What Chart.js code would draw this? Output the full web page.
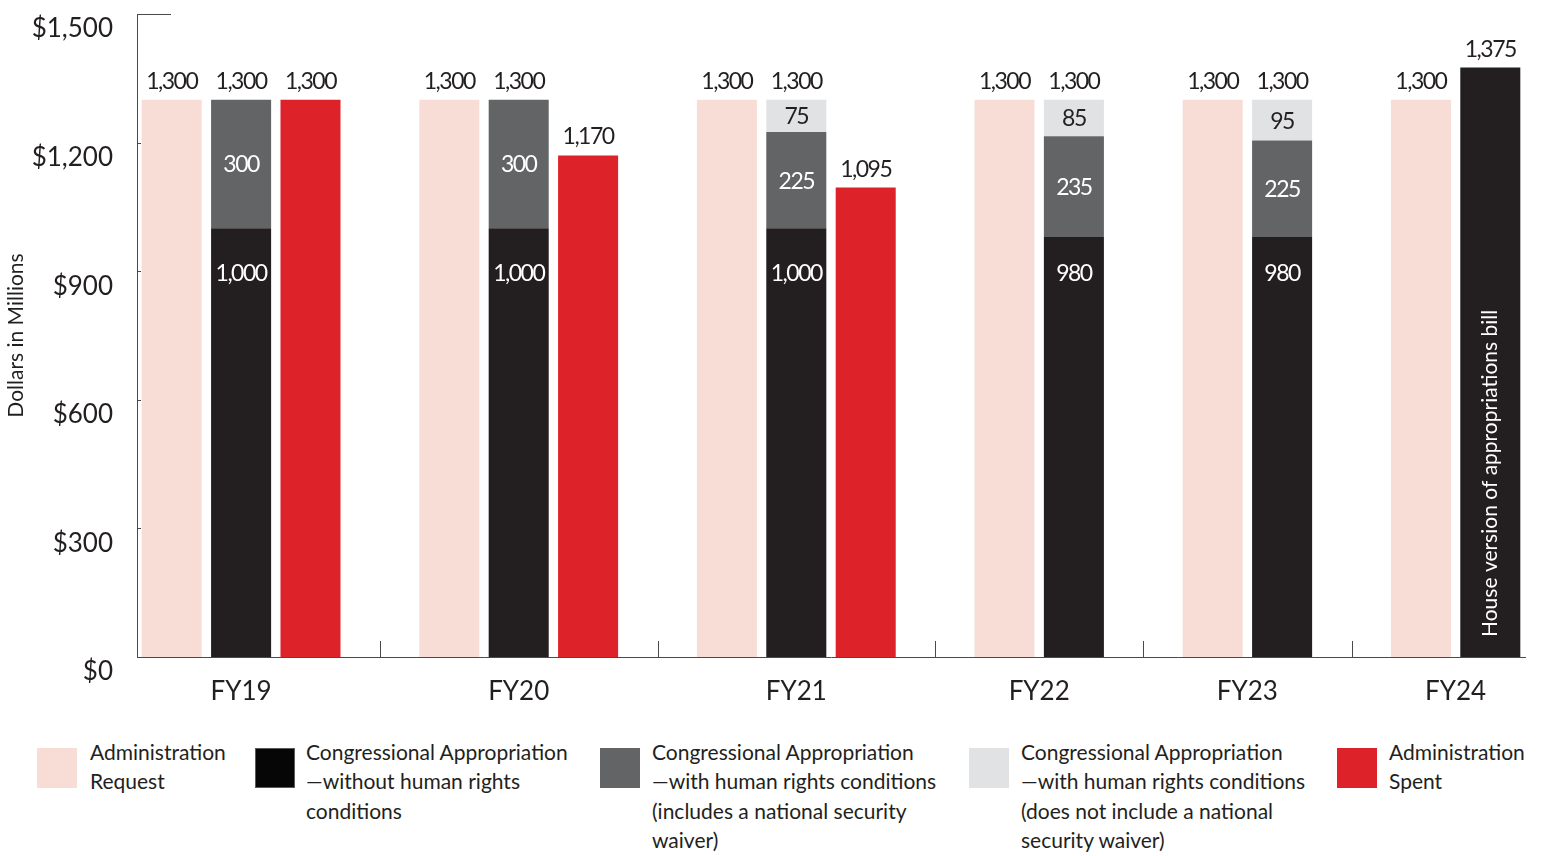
<!DOCTYPE html>
<html><head><meta charset="utf-8">
<script src="https://cdn.jsdelivr.net/npm/chart.js@4.4.0/dist/chart.umd.min.js"></script>
<style>
html,body{margin:0;padding:0;background:#fff;width:1543px;height:856px;overflow:hidden;font-family:Lato,sans-serif;color:#231f20}
#wrap{position:absolute;left:0;top:0;width:1543px;height:720px}
.leg{position:absolute;top:737px;font-size:21px;line-height:29.3px;color:#231f20;white-space:nowrap}
.sw{position:absolute;top:748px;width:40px;height:40px;box-sizing:border-box}
</style></head><body>
<div id="wrap"><canvas id="c" width="1543" height="720"></canvas></div>
<div id="legend"></div>
<script>
// ---- data ----
const fiscalYears = ['FY19','FY20','FY21','FY22','FY23','FY24'];
const adminRequest = [1300,1300,1300,1300,1300,1300];
const apprWithoutConditions = [1000,1000,1000,980,980,null];
const apprWithWaiver = [300,300,225,235,225,null];
const apprWithoutWaiver = [null,null,75,85,95,null];
const adminSpent = [1300,1170,1095,null,null,null];
const houseVersion = [null,null,null,null,null,1375];
const houseNote = 'House version of appropriations bill';
const yTicks = [0,300,600,900,1200,1500];
const yTitle = 'Dollars in Millions';
const legendLabels = [
  ['Administration','Request'],
  ['Congressional Appropriation','\u2014without human rights','conditions'],
  ['Congressional Appropriation','\u2014with human rights conditions','(includes a national security','waiver)'],
  ['Congressional Appropriation','\u2014with human rights conditions','(does not include a national','security waiver)'],
  ['Administration','Spent']
];

// ---- styles ----
const COL_REQ = '#f8ddd7', COL_BLACK = '#231f20', COL_DGRAY = '#636466', COL_LGRAY = '#e1e2e4', COL_RED = '#de2229';
const TEXT = '#231f20', AXIS = '#4a4a4a';
const legendColors = ['#f8ddd7','#060606','#636466','#e1e2e4','#de2229'];
const legendSwatchX = [37,255,600,969,1337];
const legendTextX = [90,306,652,1021,1389];

// ---- slot layout derived from data ----
const groups = []; const boundaries = []; let s = 0;
fiscalYears.forEach((fy,i)=>{
  const hasSpent = adminSpent[i] != null;
  const g = {req:s, appr:s+1, spent: hasSpent ? s+2 : null};
  g.center = hasSpent ? s+1 : s+0.5;
  groups.push(g);
  s += hasSpent ? 3 : 2;
  if (i < fiscalYears.length-1) { boundaries.push(s); s += 1; }
});
const lastSlot = s - 1;
const pts = (arr,key) => arr.map((v,i)=> v==null ? null : {x: groups[i][key], y: v}).filter(Boolean);

const datasets = [
  {data: pts(adminRequest,'req'), backgroundColor: COL_REQ, role:'above'},
  {data: pts(apprWithoutConditions,'appr'), backgroundColor: COL_BLACK, role:'black'},
  {data: pts(apprWithWaiver,'appr'), backgroundColor: COL_DGRAY, role:'dgray'},
  {data: pts(apprWithoutWaiver,'appr'), backgroundColor: COL_LGRAY, role:'lgray'},
  {data: pts(adminSpent,'spent'), backgroundColor: COL_RED, role:'above'},
  {data: pts(houseVersion,'appr'), backgroundColor: COL_BLACK, role:'house'}
];
datasets.forEach(d=>{ d.barPercentage = 0.865; d.categoryPercentage = 1; d.borderWidth = 0; });

const fmt = v => v.toLocaleString('en-US');

const axisMarks = {
  id:'axisMarks',
  beforeDatasetsDraw(chart){
    const {ctx, scales:{x,y}} = chart;
    ctx.save(); ctx.strokeStyle = AXIS; ctx.lineWidth = 1;
    boundaries.forEach(v=>{
      const px = Math.round(x.getPixelForValue(v))+0.5;
      ctx.beginPath(); ctx.moveTo(px, y.bottom-16); ctx.lineTo(px, y.bottom); ctx.stroke();
    });
    const yMax = yTicks[yTicks.length-1];
    yTicks.forEach(v=>{
      if (v === 0) return;
      const py = Math.round(y.getPixelForValue(v))+0.5;
      const len = v === yMax ? 34 : 4;
      ctx.beginPath(); ctx.moveTo(x.left, py); ctx.lineTo(x.left+len, py); ctx.stroke();
    });
    ctx.restore();
  }
};

const labelPlugin = {
  id:'barLabels',
  afterDatasetsDraw(chart){
    const ctx = chart.ctx;
    const yScale = chart.scales.y;
    ctx.save();
    ctx.font = '23px Lato'; ctx.textAlign = 'center';
    try { ctx.letterSpacing = '-1.5px'; } catch(e){}
    const stackTops = {};
    chart.data.datasets.forEach((ds,di)=>{
      const meta = chart.getDatasetMeta(di);
      meta.data.forEach((el,j)=>{
        const v = ds.data[j].y;
        const cx = el.x;
        if (ds.role === 'above' || ds.role === 'house') {
          ctx.fillStyle = TEXT; ctx.textBaseline = 'alphabetic';
          ctx.fillText(fmt(v), cx, el.y - 11);
        }
        if (ds.role === 'black' || ds.role === 'dgray' || ds.role === 'lgray') {
          const k = ds.data[j].x;
          const t = stackTops[k] || {top: Infinity, sum: 0, x: cx};
          t.top = Math.min(t.top, el.y); t.sum += v; stackTops[k] = t;
          ctx.textBaseline = 'middle';
          if (ds.role === 'black') {
            ctx.fillStyle = '#ffffff';
            const ly = Math.min(el.y + 45, yScale.getPixelForValue(895));
            ctx.fillText(fmt(v), cx, ly);
          }
          else if (ds.role === 'dgray') { ctx.fillStyle = '#ffffff'; ctx.fillText(fmt(v), cx, (el.y+el.base)/2 + 1); }
          else { ctx.fillStyle = TEXT; ctx.fillText(fmt(v), cx, (el.y+el.base)/2 + 1); }
        }
        if (ds.role === 'house') {
          ctx.save();
          ctx.translate(cx, el.base - 20);
          ctx.rotate(-Math.PI/2);
          ctx.font = '21px Lato'; try { ctx.letterSpacing = '0px'; } catch(e){}
          ctx.fillStyle = '#ffffff'; ctx.textAlign = 'left'; ctx.textBaseline = 'middle';
          ctx.fillText(houseNote, 0, 0);
          ctx.restore();
        }
      });
    });
    ctx.fillStyle = TEXT; ctx.textBaseline = 'alphabetic';
    Object.values(stackTops).forEach(t=>{ ctx.fillText(fmt(t.sum), t.x, t.top - 11); });
    ctx.restore();
  }
};

new Chart(document.getElementById('c'), {
  type:'bar',
  data:{ datasets },
  options:{
    responsive:false, animation:false, devicePixelRatio:1,
    layout:{ padding:{top:14, right:18, bottom:0, left:0} },
    plugins:{ legend:{display:false}, tooltip:{enabled:false} },
    scales:{
      x:{
        type:'linear', min:-0.5, max:lastSlot+0.5, stacked:true, offset:false,
        grid:{display:false, drawTicks:false},
        border:{display:true, color:AXIS, width:1},
        afterBuildTicks(sc){ sc.ticks = groups.map(g=>({value:g.center})); },
        afterFit(sc){ sc.height = 63; sc.paddingLeft = 0; sc.paddingRight = 0; },
        ticks:{ autoSkip:false, maxRotation:0, padding:19, color:TEXT, font:{family:'Lato', size:26},
          callback:(v,i)=> fiscalYears[i] }
      },
      y:{
        type:'linear', min:0, max:1500, stacked:true,
        grid:{display:false, drawTicks:false},
        border:{display:true, color:AXIS, width:1},
        afterBuildTicks(sc){ sc.ticks = yTicks.map(v=>({value:v})); },
        afterFit(sc){ sc.width = 137; sc.paddingTop = 0; sc.paddingBottom = 0; },
        ticks:{ padding:24, labelOffset:15, color:TEXT, font:{family:'Lato', size:26},
          callback:(v)=> '$' + fmt(v) },
        title:{ display:true, text:yTitle, color:TEXT, font:{family:'Lato', size:21}, padding:{top:4, bottom:0} }
      }
    }
  },
  plugins:[axisMarks, labelPlugin]
});

// ---- legend ----
const L = document.getElementById('legend');
legendLabels.forEach((lines,i)=>{
  const sw = document.createElement('div'); sw.className='sw';
  sw.style.left = legendSwatchX[i]+'px'; sw.style.background = legendColors[i];
  if (i===1) sw.style.border = '1px solid #5a5a5a';
  L.appendChild(sw);
  const t = document.createElement('div'); t.className='leg';
  t.style.left = legendTextX[i]+'px';
  t.innerHTML = lines.map(s=>s.replace(/&/g,'&amp;')).join('<br>');
  L.appendChild(t);
});
</script>
</body></html>
